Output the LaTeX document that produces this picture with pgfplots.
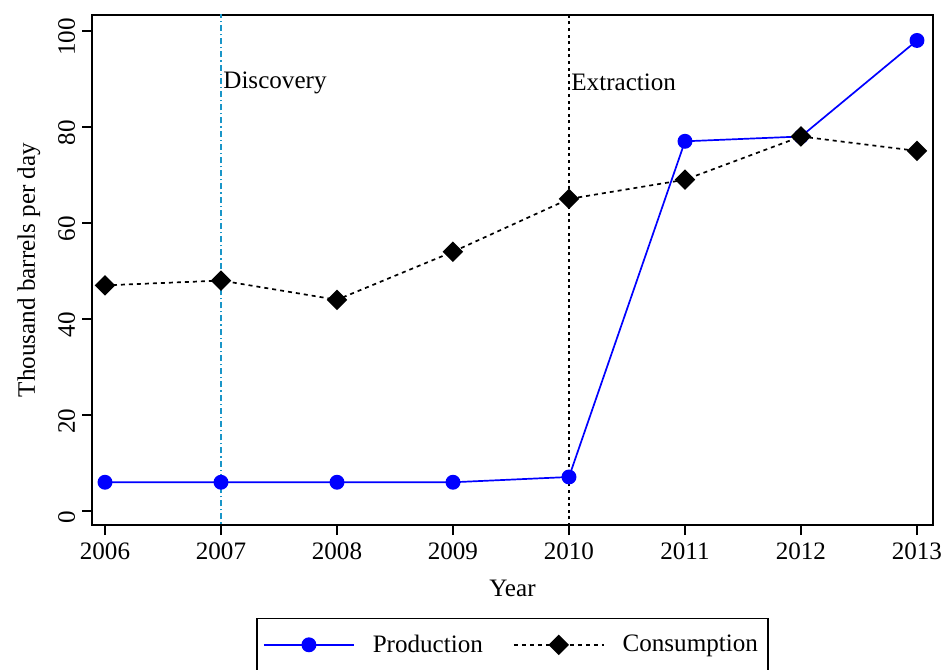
\documentclass[border=0pt]{standalone}
\usepackage{pgfplots}
\pgfplotsset{compat=1.18}
\usepackage{fontspec}
\setmainfont{Liberation Serif}
\definecolor{discov}{RGB}{26,150,200}
\definecolor{prodblue}{RGB}{0,0,255}
\newcommand{\chartfont}{\fontsize{12.6}{15}\selectfont}

\begin{document}
\begin{tikzpicture}
\begin{axis}[
  name=ax,
  scale only axis,
  width=420.5bp, height=255bp,
  xmin=2005.888, xmax=2013.138,
  ymin=-2.9, ymax=103.3,
  xtick={2006,2007,...,2013},
  ytick={0,20,...,100},
  tick align=outside,
  major tick length=5bp,
  tick style={black, line width=0.8bp},
  axis line style={line width=0.8bp},
  xtick pos=bottom, ytick pos=left,
  /pgf/number format/.cd, 1000 sep={}, assume math mode=true,
  /pgfplots/.cd,
  ticklabel style={font=\chartfont},
  yticklabel style={rotate=90, anchor=south, xshift=-3bp},
  xticklabel style={yshift=-0.5bp},
  xlabel={Year},
  ylabel={Thousand barrels per day},
  label style={font=\chartfont},
  xlabel style={yshift=-3bp},
  ylabel style={yshift=2bp},
  legend columns=2,
  legend style={
    at={(0.5,-0.1824)}, anchor=north,
    draw=black, line width=0.6bp,
    font=\chartfont,
    inner xsep=3bp, inner ysep=6bp,
    /tikz/every odd column/.append style={column sep=7bp},
    /tikz/every even column/.append style={column sep=13bp},
  },
  legend image code/.code={
    \draw[#1, mark repeat=2, mark phase=2] plot coordinates {(0bp,0bp) (22.5bp,0bp) (45bp,0bp)};
  },
  clip=true,
]
% event markers
\addplot[forget plot, discov, line width=0.7bp,
  dash pattern=on 3bp off 1.5bp on 0.6bp off 1.5bp] coordinates {(2007,-10) (2007,110)};
\addplot[forget plot, black, line width=0.8bp, dash pattern=on 1.5bp off 1.8bp] coordinates {(2010,-10) (2010,110)};
\node[anchor=west, inner sep=1bp, font=\chartfont] at (axis cs:2007,89.2) {Discovery};
\node[anchor=west, inner sep=1bp, font=\chartfont] at (axis cs:2010,89.2) {Extraction};

% oil production
\addplot[prodblue, line width=0.85bp, mark=*, mark size=3.3bp,
  mark options={solid, fill=prodblue, draw=prodblue}] coordinates {
  (2006,6) (2007,6) (2008,6) (2009,6) (2010,7.1)
  (2011,77) (2012,78) (2013,98)
};
\addlegendentry{Production}

% oil consumption
\addplot[black, line width=0.85bp, dash pattern=on 2bp off 2bp,
  mark=square*, mark size=3.2bp,
  mark options={solid, fill=black, rotate=45}] coordinates {
  (2006,47) (2007,48) (2008,44) (2009,54) (2010,65)
  (2011,69) (2012,78) (2013,75)
};
\addlegendentry{Consumption}
\end{axis}
\pgfresetboundingbox
\path ([shift={(-46bp,-72.5bp)}]ax.south west) rectangle ([shift={(5bp,7.5bp)}]ax.north east);
\end{tikzpicture}
\end{document}
